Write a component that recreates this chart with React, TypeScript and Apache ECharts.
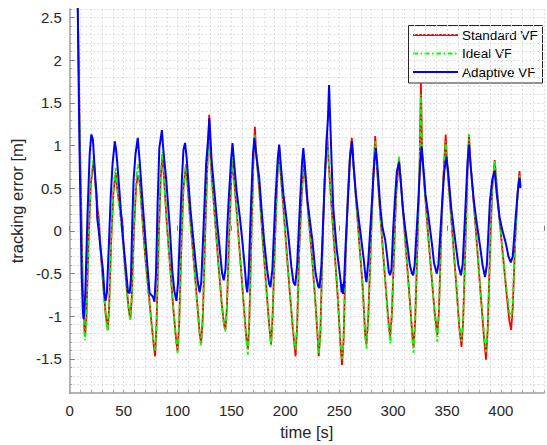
import React, { useEffect, useRef } from "react";
import * as echarts from "echarts";

// Tick labels
const xTickLabels = [0, 50, 100, 150, 200, 250, 300, 350, 400];
const yTickLabels = [-1.5, -1, -0.5, 0, 0.5, 1, 1.5, 2, 2.5];

// Series names
const seriesNames = ["Standard VF", "Ideal VF", "Adaptive VF"];

// Standard VF: [time s, tracking error m]
const standardVF: [number, number][] = [
  [7, 3.0], [9.5, 1.0], [12, -0.6], [13.5, -1.15], [14.3, -1.22], [15.5, -1.0], [17.5, -0.1], [19.5, 0.55],
  [22.4, 0.84], [23.5, 0.6], [25.5, 0.3], [27.2, 0.12], [29, -0.3], [31.5, -0.7], [33.5, -1.0], [35.2, -1.16],
  [36.5, -0.9], [38.5, -0.1], [40.5, 0.45], [42.7, 0.68], [44, 0.5], [46, 0.3], [48.7, 0.12], [50.5, -0.3],
  [53, -0.7], [55, -0.95], [56.2, -1.03], [57.5, -0.8], [59.5, 0.0], [61.5, 0.5], [63, 0.65], [64.5, 0.6],
  [65.5, 0.5], [67, 0.2], [70, -0.3], [73, -0.7], [76, -1.1], [78, -1.35], [79.2, -1.47], [80.5, -1.1],
  [82.5, -0.1], [84.5, 0.65], [86.1, 0.9], [87.5, 0.6], [90, 0.1], [93, -0.4], [96, -0.9], [98.5, -1.25],
  [100, -1.41], [101.5, -1.1], [103.5, -0.2], [105.5, 0.5], [107.9, 0.78], [109.5, 0.5], [112, 0.1], [115, -0.35],
  [118, -0.8], [120.5, -1.2], [121.9, -1.32], [123.5, -1.0], [125.5, -0.1], [127.5, 0.7], [129.4, 1.36], [130.5, 0.9],
  [132.5, 0.5], [135, 0.1], [138, -0.4], [141, -0.85], [143.2, -1.1], [144.4, -1.16], [145.8, -0.9], [147.8, -0.1],
  [149.5, 0.5], [151, 0.85], [152.5, 0.6], [155, 0.2], [158, -0.3], [161, -0.8], [163.8, -1.25], [165.3, -1.38],
  [166.5, -1.1], [168.5, -0.1], [170.3, 0.8], [171.8, 1.22], [173, 0.9], [176, 0.45], [179, -0.1], [182, -0.6],
  [185, -1.1], [186.8, -1.33], [188.2, -1.0], [190.5, -0.1], [192.5, 0.6], [194.3, 1.0], [195.5, 0.7], [198, 0.3],
  [201, -0.2], [204, -0.7], [207, -1.15], [209.5, -1.47], [211, -1.1], [213, -0.2], [215.5, 0.5], [217.6, 0.82],
  [219, 0.55], [222, 0.1], [225, -0.35], [228, -0.85], [230, -1.25], [231, -1.47], [232.5, -1.2], [234.5, -0.2],
  [236.5, 0.6], [238.7, 1.16], [240, 0.85], [242.5, 0.35], [245.5, -0.2], [248.5, -0.75], [251, -1.3], [252.6, -1.57],
  [254, -1.3], [256, -0.3], [258, 0.4], [260, 0.9], [261.7, 1.09], [263, 0.8], [266, 0.3], [269, -0.2],
  [272, -0.7], [274, -1.2], [275.3, -1.33], [277, -1.0], [279.5, -0.1], [281.5, 0.6], [283.4, 1.11], [285, 0.75],
  [288, 0.2], [291, -0.3], [294, -0.8], [296, -1.1], [297.2, -1.24], [298.8, -1.0], [301, -0.2], [303, 0.45],
  [305.5, 0.85], [307, 0.6], [310, 0.1], [313, -0.4], [316, -0.9], [318, -1.25], [319, -1.37], [320.5, -1.05],
  [322.5, -0.2], [324.5, 0.7], [325.8, 1.73], [327, 0.9], [329.5, 0.45], [332.5, -0.05], [335.5, -0.5], [338.5, -0.95],
  [341, -1.22], [342.5, -0.95], [344.5, -0.1], [346.5, 0.6], [348.8, 1.13], [350, 0.8], [353, 0.3], [356, -0.2],
  [359, -0.7], [361.5, -1.15], [363.5, -1.36], [365, -1.05], [367, -0.2], [368.8, 0.6], [370.4, 1.13], [371.8, 0.8],
  [375, 0.3], [378, -0.2], [381, -0.7], [384, -1.2], [386.2, -1.51], [387.8, -1.15], [390, -0.2], [392, 0.5],
  [394.3, 0.83], [396, 0.55], [399, 0.1], [402, -0.3], [405, -0.7], [407.8, -1.05], [409.5, -1.16], [411, -0.9],
  [413, -0.2], [415.5, 0.45], [417.3, 0.7], [418.2, 0.52],
];

// Ideal VF
const idealVF: [number, number][] = [
  [7, 3.0], [9.5, 1.0], [12, -0.6], [13.5, -1.2], [14.3, -1.28], [15.5, -1.05], [17.5, -0.1], [19.5, 0.6],
  [22.2, 0.86], [23.5, 0.6], [25.5, 0.25], [27.5, 0.0], [29, -0.3], [31.5, -0.72], [33.5, -1.02], [35.2, -1.18],
  [36.5, -0.92], [38.5, -0.1], [40.5, 0.5], [42.5, 0.74], [44, 0.5], [46, 0.25], [48.5, 0.0], [50.5, -0.32],
  [53, -0.72], [55, -0.97], [56.2, -1.05], [57.5, -0.8], [59.5, 0.0], [61.5, 0.6], [63.3, 0.78], [64.5, 0.6],
  [66, 0.35], [67.5, 0.15], [70, -0.3], [73, -0.72], [76, -1.1], [78, -1.32], [79.2, -1.4], [80.5, -1.1],
  [82.5, -0.1], [84.5, 0.7], [86.1, 0.93], [87.5, 0.6], [90, 0.1], [93, -0.4], [96, -0.92], [98.5, -1.28],
  [100, -1.43], [101.5, -1.1], [103.5, -0.2], [105.5, 0.5], [107.9, 0.78], [109.5, 0.5], [112, 0.1], [115, -0.35],
  [118, -0.82], [120.5, -1.22], [121.9, -1.34], [123.5, -1.0], [125.5, -0.1], [127.5, 0.7], [129.4, 1.07], [130.5, 0.85],
  [132.5, 0.5], [135, 0.1], [138, -0.4], [141, -0.86], [143.2, -1.12], [144.4, -1.18], [145.8, -0.9], [147.8, -0.1],
  [149.5, 0.55], [151, 0.85], [152.5, 0.6], [155, 0.2], [158, -0.3], [161, -0.8], [163.8, -1.28], [165.3, -1.45],
  [166.5, -1.1], [168.5, -0.1], [170.3, 0.8], [171.8, 1.12], [173, 0.9], [176, 0.45], [179, -0.1], [182, -0.6],
  [185, -1.1], [186.8, -1.34], [188.2, -1.0], [190.5, -0.1], [192.5, 0.6], [194.3, 0.93], [195.5, 0.7], [198, 0.3],
  [201, -0.2], [204, -0.7], [207, -1.12], [209.5, -1.4], [211, -1.1], [213, -0.2], [215.5, 0.5], [217.6, 0.82],
  [219, 0.55], [222, 0.1], [225, -0.35], [228, -0.85], [230, -1.22], [231.2, -1.43], [232.5, -1.2], [234.5, -0.2],
  [236.5, 0.6], [238.7, 1.1], [240, 0.85], [242.5, 0.35], [245.5, -0.2], [248.5, -0.75], [251, -1.28], [252.6, -1.5],
  [254, -1.3], [256, -0.3], [258, 0.4], [260, 0.85], [261.7, 1.04], [263, 0.8], [266, 0.3], [269, -0.2],
  [272, -0.7], [274, -1.22], [275.3, -1.38], [277, -1.0], [279.5, -0.1], [281.5, 0.6], [283.4, 1.05], [285, 0.75],
  [288, 0.2], [291, -0.3], [294, -0.82], [296, -1.15], [297.4, -1.32], [298.8, -1.0], [301, -0.2], [303, 0.5],
  [305.5, 0.87], [307, 0.6], [310, 0.1], [313, -0.4], [316, -0.92], [318, -1.3], [319, -1.43], [320.5, -1.05],
  [322.5, -0.2], [324.5, 0.7], [325.8, 1.6], [327, 0.9], [329.5, 0.45], [332.5, -0.05], [335.5, -0.5], [338.5, -0.98],
  [341, -1.3], [342.5, -0.95], [344.5, -0.1], [346.5, 0.6], [348.8, 1.05], [350, 0.8], [353, 0.3], [356, -0.2],
  [359, -0.7], [361.5, -1.12], [363.5, -1.3], [365, -1.05], [367, -0.2], [368.8, 0.6], [370.4, 1.13], [371.8, 0.8],
  [375, 0.3], [378, -0.2], [381, -0.7], [384, -1.15], [386.2, -1.42], [387.8, -1.15], [390, -0.2], [392, 0.5],
  [394.3, 0.83], [396, 0.55], [399, 0.1], [402, -0.3], [405, -0.65], [407.8, -0.95], [409.5, -1.02], [411, -0.85],
  [413, -0.2], [415.5, 0.4], [417.3, 0.65], [418.2, 0.52],
];

// Adaptive VF
const adaptiveVF: [number, number][] = [
  [7, 3.0], [9, 1.0], [11, -0.5], [12.2, -0.95], [12.8, -1.03], [13.6, -0.95], [14.5, -0.7], [16.5, 0.2], [18.5, 0.9], [20, 1.13],
  [21.5, 1.07], [23, 0.75], [24.8, 0.43], [25.5, 0.15], [26.9, 0.0], [28.5, -0.2], [30.8, -0.46], [32.3, -0.75],
  [33.2, -0.82], [34.5, -0.72], [36.5, -0.1], [38, 0.4], [39.7, 0.78], [41.8, 1.05], [43, 0.95], [44.2, 0.78],
  [46.5, 0.4], [48.7, 0.0], [51, -0.3], [54.1, -0.72], [55.6, -0.73], [56.8, -0.55], [58, 0.1], [59.2, 0.59],
  [61, 0.9], [63.1, 1.09], [64, 0.95], [65.1, 0.78], [67.5, 0.35], [69.6, 0.0], [72, -0.4], [74.1, -0.73],
  [77.1, -0.77], [78.6, -0.83], [80, -0.5], [81.5, 0.3], [83.1, 0.97], [85.5, 1.18], [86.5, 1.0], [87.6, 0.85],
  [89.5, 0.6], [91.2, 0.31], [93, 0.0], [95.1, -0.46], [97, -0.7], [99, -0.82], [100.5, -0.6], [102.3, 0.0],
  [104, 0.59], [105.5, 0.95], [107, 1.03], [108.5, 0.85], [110, 0.59], [112, 0.25], [114.5, -0.08], [117, -0.4],
  [119, -0.62], [120.5, -0.72], [122, -0.6], [124, 0.0], [126.5, 0.78], [128.5, 1.1], [129.5, 1.32], [130.5, 1.1],
  [131.5, 0.85], [132.5, 0.7], [135, 0.35], [136.9, 0.08], [139, -0.2], [141.4, -0.5], [142.9, -0.58], [144.5, -0.45],
  [146, 0.0], [147.4, 0.35], [149.5, 0.8], [151, 1.03], [152.5, 0.8], [154.8, 0.47], [157.8, 0.16], [160, -0.1],
  [162.3, -0.42], [163.8, -0.65], [164.7, -0.72], [166, -0.5], [168.3, 0.35], [170, 0.9], [171.3, 1.09], [172.5, 0.95],
  [175.8, 0.62], [178, 0.25], [180.3, -0.11], [183.2, -0.46], [185, -0.62], [186.2, -0.66], [188, -0.45], [190.7, 0.35],
  [193, 0.85], [194.3, 1.01], [196, 0.75], [198.2, 0.43], [200.5, 0.2], [202.7, -0.04], [205.6, -0.42], [207.5, -0.6],
  [209.2, -0.64], [211, -0.4], [213.7, 0.35], [215.5, 0.8], [216.7, 0.97], [218.5, 0.7], [220.6, 0.35], [223, 0.1],
  [225.1, -0.11], [228.1, -0.5], [230.5, -0.65], [231.7, -0.67], [233.5, -0.4], [236.4, 0.54], [238.6, 1.13], [239.5, 1.3],
  [240.6, 1.71], [241.5, 1.35], [242.4, 1.01], [243.5, 0.6], [244.5, 0.27], [247.5, -0.19], [249, -0.35], [250.5, -0.5],
  [251.5, -0.6], [252.2, -0.72], [252.8, -0.62], [253.5, -0.74], [254.5, -0.6], [256, -0.15], [258, 0.35], [260, 0.85],
  [261.9, 1.05], [263.5, 0.75], [265.5, 0.43], [267.5, 0.2], [269.9, -0.04], [272.9, -0.35], [274.5, -0.55], [275.3, -0.6],
  [277, -0.35], [280.4, 0.35], [282.5, 0.8], [284, 0.97], [285.5, 0.75], [288.2, 0.27], [290, 0.05], [292.7, -0.11],
  [294.5, -0.3], [296, -0.48], [297.2, -0.52], [298.5, -0.45], [300, 0.0], [301.6, 0.35], [303.5, 0.7], [305.5, 0.8],
  [307, 0.6], [309, 0.27], [311, 0.05], [313.5, -0.19], [315.5, -0.4], [317.5, -0.5], [318.6, -0.52], [320, -0.4],
  [323.4, 0.35], [325, 0.75], [326.5, 0.99], [328, 0.75], [330, 0.43], [333, 0.15], [336, -0.15], [338, -0.38],
  [340.5, -0.5], [342, -0.4], [345.6, 0.35], [347.5, 0.7], [349.5, 0.87], [351, 0.7], [353.9, 0.27], [356, 0.05],
  [358.4, -0.19], [360.5, -0.4], [362.9, -0.52], [364.5, -0.4], [367.4, 0.35], [369, 0.8], [370.4, 1.01], [372, 0.75],
  [374.9, 0.35], [377.5, 0.1], [380.8, -0.19], [383, -0.4], [385.3, -0.54], [387, -0.4], [389.8, 0.35], [392, 0.6],
  [394.3, 0.7], [396, 0.45], [398.7, 0.16], [401.5, 0.0], [404.7, -0.15], [407, -0.3], [409.2, -0.37], [411, -0.3],
  [413.7, 0.16], [416, 0.5], [417.3, 0.62], [418.2, 0.5],
];

const FONT = "'Liberation Sans', Arial, Helvetica, sans-serif";
const AXIS_GREY = "#a0a0a0";
const TEXT = "#262626";
const GRID_COLOR = "#d6d6d6";

export default function App() {
  const ref = useRef<HTMLDivElement>(null);

  useEffect(() => {
    if (!ref.current) return;
    const chart = echarts.init(ref.current, null, { renderer: "svg" });

    const xMajorFmt = (v: number) =>
      xTickLabels.indexOf(Math.round(v)) >= 0 && Math.abs(v - Math.round(v)) < 1e-6 ? String(Math.round(v)) : "";
    const yMajorFmt = (v: number) => {
      const r = Math.round(v * 10) / 10;
      return yTickLabels.some((t) => Math.abs(t - r) < 1e-9) ? String(r) : "";
    };

    const legendRows = [
      { y: 35, color: "#ff0000", dashed: false, name: seriesNames[0] },
      { y: 53.5, color: "#00ff00", dashed: true, name: seriesNames[1] },
      { y: 72, color: "#0000ff", dashed: false, name: seriesNames[2] },
    ];

    const legendLine = (r: (typeof legendRows)[number]) =>
      r.dashed
        ? {
            type: "line",
            shape: { x1: 413, y1: r.y, x2: 458, y2: r.y },
            style: { stroke: r.color, lineWidth: 2, lineDash: [5, 2.5, 1.5, 2.5] },
          }
        : {
            type: "rect",
            shape: { x: 413, y: r.y - 1, width: 45, height: 2 },
            style: { fill: r.color },
          };

    const option: any = {
      animation: false,
      backgroundColor: "#ffffff",
      textStyle: { fontFamily: FONT },
      grid: { left: 66, top: 9, width: 490.6, height: 388, containLabel: false },
      xAxis: [
        {
          type: "value",
          min: 0,
          max: 440,
          interval: 10,
          position: "bottom",
          name: "time [s]",
          nameLocation: "middle",
          nameGap: 30,
          nameTextStyle: { fontSize: 16.5, color: TEXT, fontFamily: FONT },
          axisLine: { show: true, onZero: false, lineStyle: { color: AXIS_GREY, width: 1.5 } },
          axisTick: { show: true, inside: true, length: 2.5, lineStyle: { color: AXIS_GREY, width: 1 } },
          axisLabel: { show: true, margin: 10, fontSize: 15, color: TEXT, fontFamily: FONT, formatter: xMajorFmt },
          splitLine: { show: true, lineStyle: { color: GRID_COLOR, type: [1.5, 2.5], width: 1 } },
        },
        {
          type: "value",
          min: 0,
          max: 440,
          interval: 50,
          position: "bottom",
          axisLine: { show: false },
          axisTick: { show: true, inside: true, length: 5, lineStyle: { color: "#808080", width: 1 } },
          axisLabel: { show: false },
          splitLine: { show: false },
        },
      ],
      yAxis: [
        {
          type: "value",
          min: -1.9,
          max: 2.6,
          interval: 0.1,
          position: "left",
          name: "tracking error [m]",
          nameLocation: "middle",
          nameGap: 38,
          nameTextStyle: { fontSize: 16.5, color: TEXT, fontFamily: FONT },
          axisLine: { show: true, onZero: false, lineStyle: { color: AXIS_GREY, width: 1.5 } },
          axisTick: { show: true, inside: true, length: 2.5, lineStyle: { color: AXIS_GREY, width: 1 } },
          axisLabel: { show: true, margin: 8, fontSize: 15, color: TEXT, fontFamily: FONT, formatter: yMajorFmt },
          splitLine: { show: true, lineStyle: { color: GRID_COLOR, type: [1.5, 2.5], width: 1 } },
        },
        {
          type: "value",
          min: -1.9,
          max: 2.6,
          position: "left",
          axisLine: { show: false },
          axisTick: { show: true, inside: true, length: 5, customValues: yTickLabels, lineStyle: { color: "#808080", width: 1 } },
          axisLabel: { show: false },
          splitLine: { show: false },
        },
      ],
      series: [
        {
          name: seriesNames[0],
          type: "line",
          data: standardVF,
          showSymbol: false,
          symbol: "none",
          clip: true,
          lineStyle: { color: "#ff0000", width: 1.8 },
          z: 2,
        },
        {
          name: seriesNames[1],
          type: "line",
          data: idealVF,
          showSymbol: false,
          symbol: "none",
          clip: true,
          lineStyle: { color: "#00ff00", width: 1.8, type: [5, 2.5, 1.5, 2.5] },
          z: 3,
        },
        {
          name: seriesNames[2],
          type: "line",
          data: adaptiveVF,
          showSymbol: false,
          symbol: "none",
          clip: true,
          lineStyle: { color: "#0000ff", width: 2 },
          z: 4,
        },
      ],
      graphic: [
        {
          type: "group",
          z: 100,
          children: [
            {
              type: "rect",
              shape: { x: 408.5, y: 25.5, width: 134, height: 57.5 },
              style: { fill: "#ffffff", stroke: "#262626", lineWidth: 1 },
            },
            ...legendRows.flatMap((r) => [
              legendLine(r),
              {
                type: "text",
                x: 462,
                y: r.y,
                style: {
                  text: r.name,
                  fill: "#000000",
                  fontSize: 13.5,
                  fontFamily: FONT,
                  verticalAlign: "middle",
                  align: "left",
                },
              },
            ]),
          ],
        },
      ],
    };

    chart.setOption(option);
    return () => chart.dispose();
  }, []);

  return (
    <div
      ref={ref}
      style={{ position: "fixed", left: 0, top: 0, width: 547, height: 445, background: "#fff" }}
    />
  );
}
